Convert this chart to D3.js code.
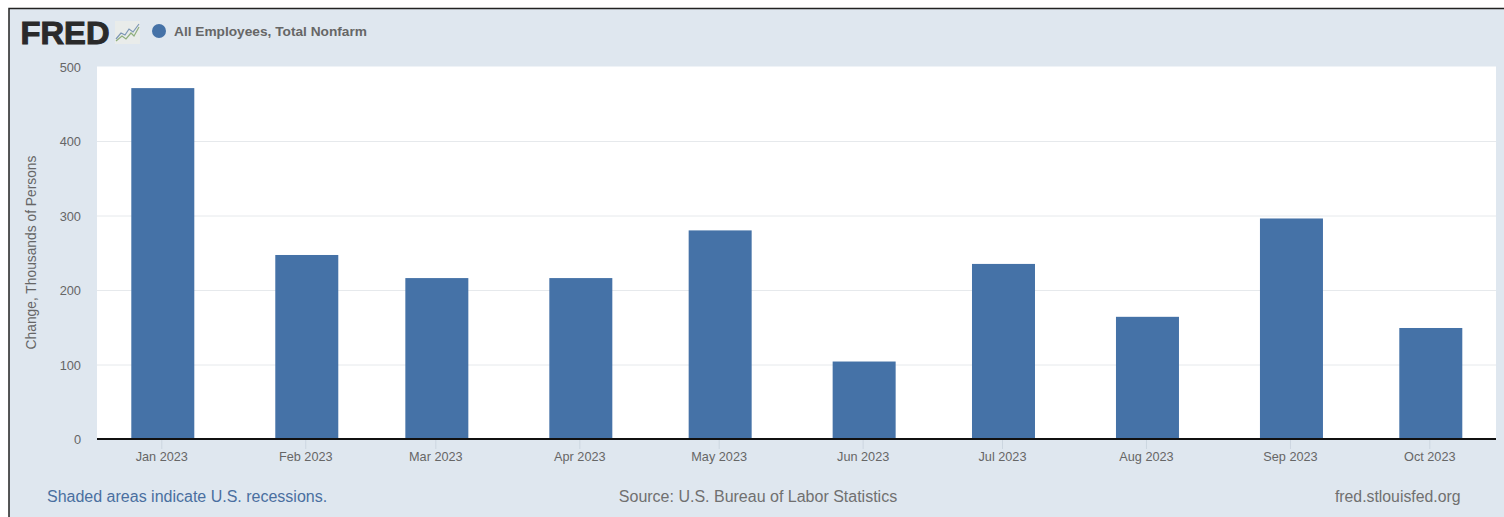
<!DOCTYPE html>
<html>
<head>
<meta charset="utf-8">
<script src="https://cdn.jsdelivr.net/npm/d3@7"></script>
<style>
  html, body { margin: 0; padding: 0; background: #fff; overflow: hidden; }
  svg { display: block; }
  text { font-family: "Liberation Sans", Arial, sans-serif; }
</style>
</head>
<body>
<svg id="chart"></svg>
<script>
// values
const months = ['2023-01-01', '2023-02-01', '2023-03-01', '2023-04-01', '2023-05-01',
                '2023-06-01', '2023-07-01', '2023-08-01', '2023-09-01', '2023-10-01'];
const change = [471, 247, 216, 216, 280, 104, 235, 164, 296, 149];
const yTicks = [0, 100, 200, 300, 400, 500];

// little chart in the logo
const logoGreen = [[0, 1], [6, 6], [10, 3], [15, 9], [18, 6], [23, 15]];
const logoBlue = [[0, 3], [5, 9], [9, 7], [13, 13], [17, 10], [23, 18]];

const w = 1504, h = 517;
const bg = '#dfe7ef', barColor = '#4572a7';
const tickColor = '#666';

const svg = d3.select('#chart').attr('width', w).attr('height', h);

svg.append('rect').attr('width', w).attr('height', h).attr('fill', '#fff');

// page frame
svg.append('rect')
  .attr('x', 9).attr('y', 9)
  .attr('width', w - 9).attr('height', h - 9)
  .attr('fill', bg);
svg.append('path')
  .attr('d', `M9,${h}V8.5H${w}`)
  .attr('fill', 'none')
  .attr('stroke', '#222')
  .attr('stroke-width', 1.5);

// plot area
const plotL = 97, plotR = 1496, plotT = 66.5, plotB = 439;
svg.append('rect')
  .attr('x', plotL).attr('y', plotT)
  .attr('width', plotR - plotL).attr('height', plotB - plotT)
  .attr('fill', '#fff');

const parse = d3.utcParse('%Y-%m-%d');
const dates = months.map(parse);

const xScale = d3.scaleUtc()
  .domain([dates[0], dates[dates.length - 1]])
  .range([163, 1431]);

const yScale = d3.scaleLinear()
  .domain([0, 500])
  .range([plotB, plotT]);

// gridlines
svg.append('g')
  .selectAll('line')
  .data(yTicks.filter((d) => d > 0 && d < 500))
  .enter()
  .append('line')
  .attr('x1', plotL).attr('x2', plotR)
  .attr('y1', (d) => yScale(d) + 0.5)
  .attr('y2', (d) => yScale(d) + 0.5)
  .attr('stroke', '#e6e9ec');

// bars
svg.append('g')
  .selectAll('rect')
  .data(change)
  .enter()
  .append('rect')
  .attr('x', (d, i) => xScale(dates[i]) - 31.7)
  .attr('y', (d) => yScale(d))
  .attr('width', 63)
  .attr('height', (d) => plotB - yScale(d))
  .attr('fill', barColor);

// y axis
let yAxis = d3.axisLeft(yScale).tickValues(yTicks).tickSize(0).tickPadding(16);
let yAxisGroup = svg.append('g')
  .attr('transform', `translate(${plotL}, 0.5)`)
  .call(yAxis);
yAxisGroup.select('.domain').remove();
yAxisGroup.selectAll('text')
  .attr('font-size', '12.8px')
  .attr('font-family', '"Liberation Sans", Arial, sans-serif')
  .attr('fill', tickColor);

// x axis
let xAxis = d3.axisBottom(xScale)
  .tickValues(dates)
  .tickFormat(d3.utcFormat('%b %Y'))
  .tickSize(10)
  .tickPadding(3);
let xAxisGroup = svg.append('g')
  .attr('transform', `translate(-1.7, ${plotB})`)
  .call(xAxis);
xAxisGroup.select('.domain').remove();
xAxisGroup.selectAll('line').attr('stroke', '#ccd6e0');
xAxisGroup.selectAll('text')
  .attr('font-size', '12.7px')
  .attr('font-family', '"Liberation Sans", Arial, sans-serif')
  .attr('fill', tickColor);

// baseline
svg.append('line')
  .attr('x1', plotL).attr('x2', plotR)
  .attr('y1', plotB).attr('y2', plotB)
  .attr('stroke', '#111')
  .attr('stroke-width', 2);

// y axis title
svg.append('text')
  .attr('transform', 'translate(36, 252.5) rotate(-90)')
  .attr('text-anchor', 'middle')
  .attr('font-size', '13.8px')
  .attr('fill', tickColor)
  .text('Change, Thousands of Persons');

// logo
svg.append('text')
  .attr('x', 20.5).attr('y', 44)
  .attr('font-size', '31px')
  .attr('font-weight', 'bold')
  .attr('stroke', '#2a2a2a')
  .attr('stroke-width', 1)
  .attr('fill', '#2a2a2a')
  .attr('textLength', 89)
  .attr('lengthAdjust', 'spacingAndGlyphs')
  .text('FRED');

const logoG = svg.append('g').attr('transform', 'translate(115, 21)');
logoG.append('rect')
  .attr('width', 25).attr('height', 23)
  .attr('fill', '#e9ecea');
const logoLine = d3.line()
  .x((d) => d[0] + 1)
  .y((d) => 21 - d[1]);
logoG.append('path').attr('d', logoLine(logoGreen))
  .attr('fill', 'none').attr('stroke', '#8fae7c').attr('stroke-width', 1.2);
logoG.append('path').attr('d', logoLine(logoBlue))
  .attr('fill', 'none').attr('stroke', '#7d97b5').attr('stroke-width', 1.2);

// legend
svg.append('circle')
  .attr('cx', 159).attr('cy', 31).attr('r', 7)
  .attr('fill', barColor);
svg.append('text')
  .attr('x', 174).attr('y', 36)
  .attr('font-size', '13.7px')
  .attr('font-weight', 'bold')
  .attr('fill', tickColor)
  .text('All Employees, Total Nonfarm');

// footer
svg.append('text')
  .attr('x', 47).attr('y', 502)
  .attr('font-size', '16px')
  .attr('fill', '#4a6fa0')
  .text('Shaded areas indicate U.S. recessions.');
svg.append('text')
  .attr('x', 758).attr('y', 502)
  .attr('text-anchor', 'middle')
  .attr('font-size', '16px')
  .attr('fill', '#707070')
  .text('Source: U.S. Bureau of Labor Statistics');
svg.append('text')
  .attr('x', 1460.5).attr('y', 502)
  .attr('text-anchor', 'end')
  .attr('font-size', '15.8px')
  .attr('fill', '#707070')
  .text('fred.stlouisfed.org');
</script>
</body>
</html>
